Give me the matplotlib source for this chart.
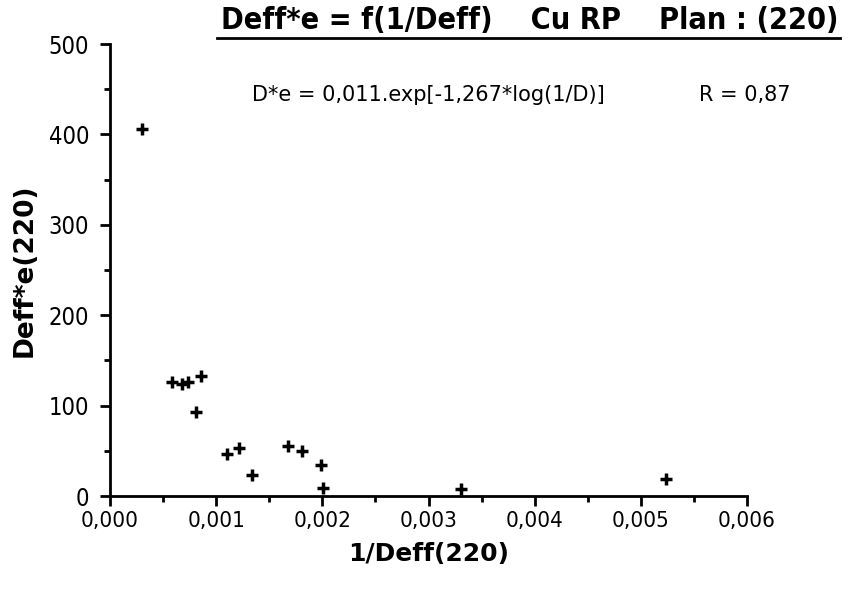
import matplotlib
matplotlib.use("Agg")
import matplotlib.pyplot as plt
from matplotlib.lines import Line2D
from matplotlib.ticker import MultipleLocator, FuncFormatter

# values
inv_deff = [0.000298, 0.000581, 0.000675, 0.000737, 0.000854, 0.000810,
            0.001099, 0.001218, 0.001334, 0.001673, 0.001808, 0.001990,
            0.002008, 0.003305, 0.005233]
deff_e = [405.6, 125.8, 123.9, 125.8, 132.7, 93.0,
          46.5, 52.8, 23.0, 55.3, 49.8, 34.6,
          8.9, 7.7, 19.1]

title = "Deff*e = f(1/Deff)    Cu RP    Plan : (220)"
equation = "D*e = 0,011.exp[-1,267*log(1/D)]"
r_text = "R = 0,87"
x_label = "1/Deff(220)"
y_label = "Deff*e(220)"

plt.rcParams['font.family'] = ['DejaVu Sans']
plt.rcParams['font.stretch'] = 'condensed'

fig = plt.figure(figsize=(8.56, 5.9), dpi=100)
ax = fig.add_axes([0.1285, 0.1593, 0.7442, 0.7661])

ax.plot(inv_deff, deff_e, linestyle='none', marker='+', color='black',
        markersize=9, markeredgewidth=2.5)

ax.set_xlim(0, 0.006)
ax.set_ylim(0, 500)
ax.xaxis.set_major_locator(MultipleLocator(0.001))
ax.xaxis.set_minor_locator(MultipleLocator(0.0005))
ax.yaxis.set_major_locator(MultipleLocator(100))
ax.yaxis.set_minor_locator(MultipleLocator(50))
ax.xaxis.set_major_formatter(FuncFormatter(lambda v, p: f"{v:.3f}".replace('.', ',')))
ax.yaxis.set_major_formatter(FuncFormatter(lambda v, p: f"{v:.0f}"))

for side in ['top', 'right']:
    ax.spines[side].set_visible(False)
for side in ['left', 'bottom']:
    ax.spines[side].set_linewidth(2)

ax.tick_params(which='major', direction='out', length=7, width=2, labelsize=16)
ax.tick_params(which='minor', direction='out', length=4, width=2)
ax.tick_params(axis='y', which='major', labelsize=17, pad=8)

ax.set_xlabel(x_label, fontsize=18, fontweight='bold', fontstretch='normal', labelpad=8)
ax.set_ylabel(y_label, fontsize=19, fontweight='bold', fontstretch='normal', labelpad=8)

fig.text(0.2944, 0.839, equation, fontsize=15, fontstretch='normal', ha='left', va='center')
fig.text(0.923, 0.839, r_text, fontsize=15, fontstretch='normal', ha='right', va='center')

fig.text(0.979, 0.966, title, fontsize=22, fontweight='bold', ha='right', va='center')
fig.add_artist(Line2D([0.254, 0.981], [0.935, 0.935], color='black', linewidth=2))

fig.savefig("out.png", dpi=100)
